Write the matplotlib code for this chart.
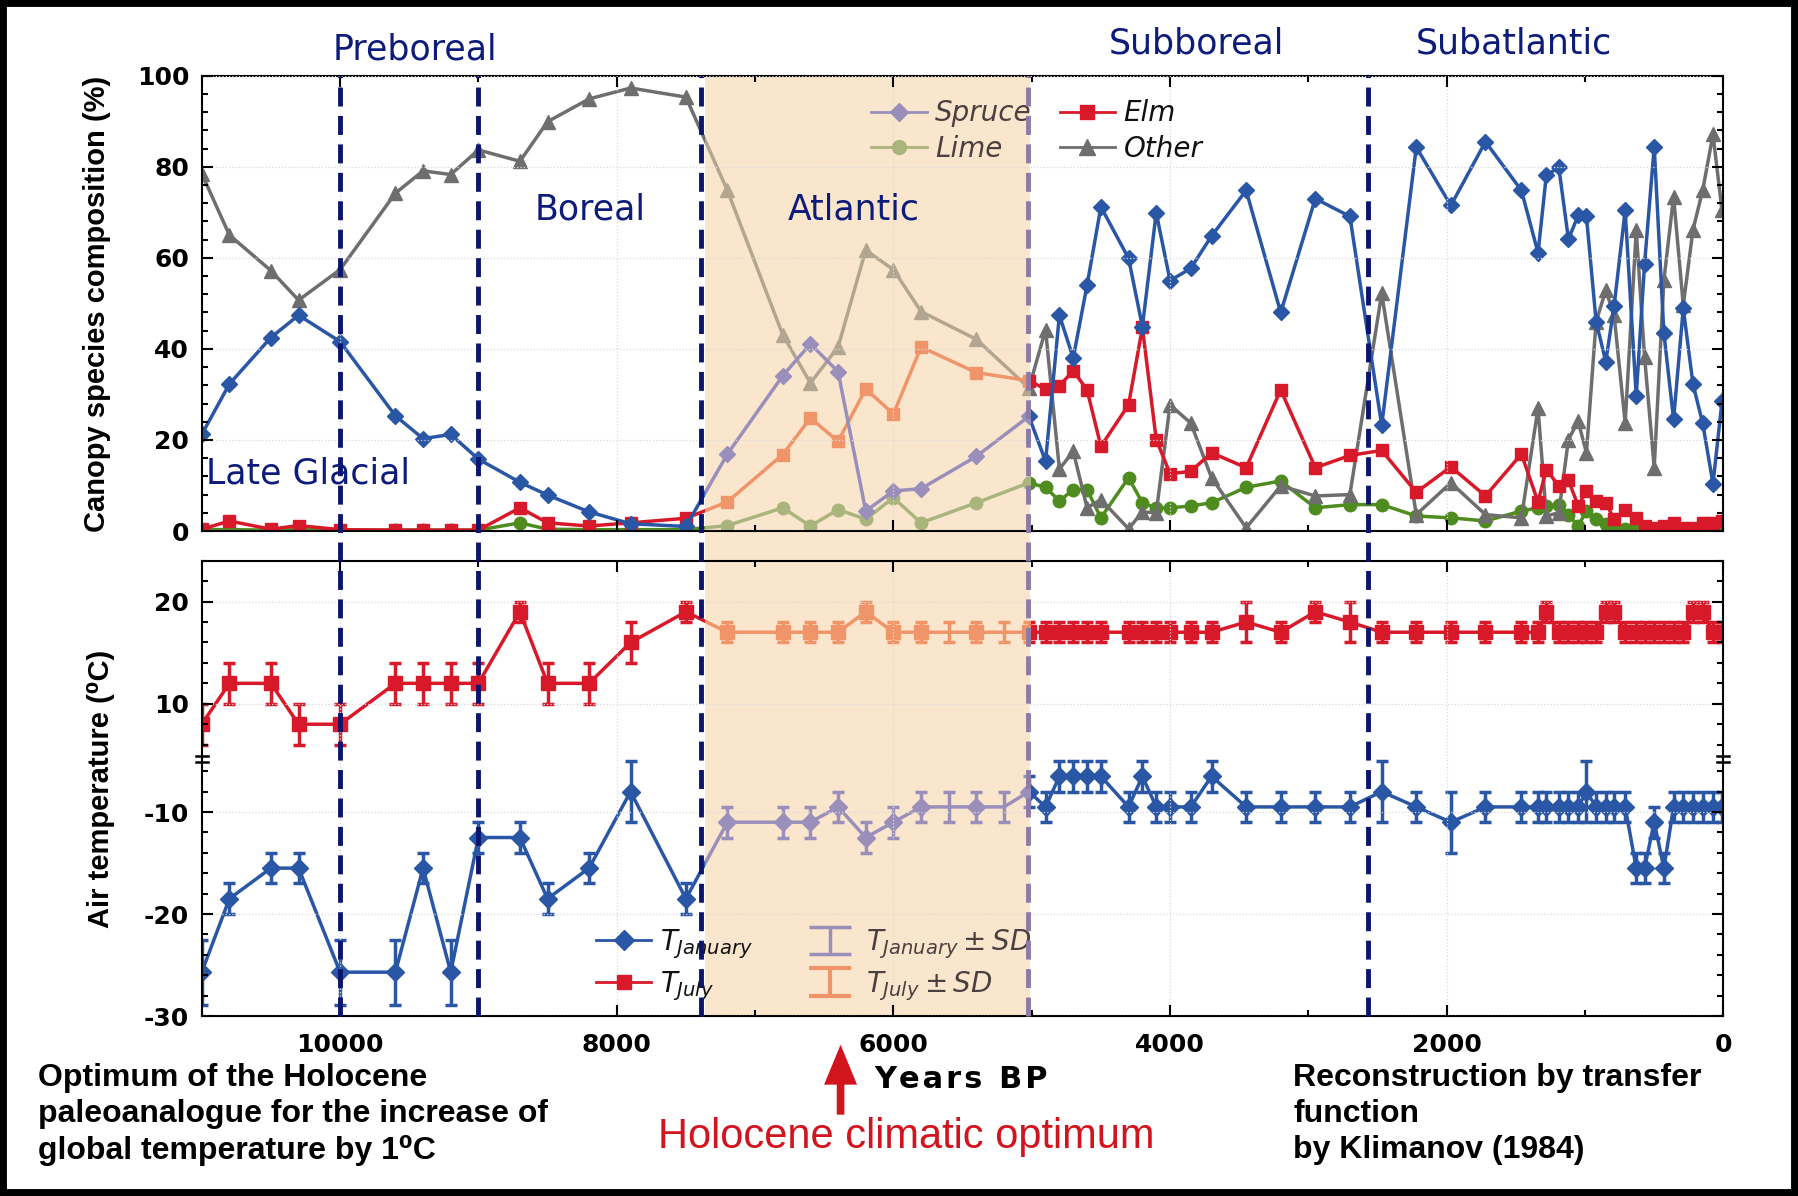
import numpy as np
import matplotlib
matplotlib.use('Agg')
import matplotlib.pyplot as plt
import matplotlib.transforms as mtransforms
from matplotlib.lines import Line2D
from matplotlib.patches import Rectangle, FancyArrowPatch

# ------------------------------- dados --------------------------------------

# idade das amostras (anos BP), mesma para as quatro especies
anos = [11000, 10800, 10500, 10300, 10000, 9600, 9400, 9200, 9000, 8700,
        8500, 8200, 7900, 7500, 7200, 6800, 6600, 6400, 6200, 6000,
        5800, 5400, 5020, 4900, 4800, 4700, 4600, 4500, 4300, 4200,
        4100, 4000, 3850, 3700, 3450, 3200, 2950, 2700, 2470, 2220,
        1970, 1720, 1460, 1340, 1280, 1190, 1120, 1050, 990, 920,
        850, 790, 710, 630, 570, 500, 430, 360, 290, 220,
        150, 75, 10]

spruce = [21.2, 32.3, 42.5, 47.4, 41.6, 25.3, 20.3, 21.2, 15.8, 10.7,
          7.9, 4.2, 1.6, 1.0, 16.9, 34.1, 41.1, 35.0, 4.4, 8.8,
          9.3, 16.4, 25.2, 15.3, 47.4, 38.0, 54.0, 71.2, 59.9, 44.9,
          69.9, 55.0, 57.7, 64.8, 74.8, 48.0, 73.0, 69.1, 23.2, 84.3,
          71.5, 85.5, 74.8, 61.1, 78.1, 79.9, 64.1, 69.3, 69.1, 46.0,
          37.2, 49.4, 70.4, 29.6, 58.6, 84.4, 43.4, 24.5, 48.9, 32.3,
          23.7, 10.4, 28.5]

other = [78.5, 65.0, 57.2, 50.7, 57.4, 74.2, 79.1, 78.3, 83.7, 81.2,
         89.9, 94.9, 97.3, 95.3, 74.8, 43.1, 32.5, 40.4, 61.7, 57.4,
         48.2, 42.1, 31.4, 44.2, 13.6, 17.5, 5.1, 6.9, 0.5, 4.2,
         4.0, 27.7, 23.7, 11.7, 0.7, 9.9, 7.7, 8.0, 52.2, 3.6,
         10.6, 3.6, 2.9, 27.0, 3.3, 4.0, 20.1, 24.1, 17.2, 46.0,
         52.9, 47.4, 23.7, 66.1, 38.3, 13.9, 55.1, 73.4, 49.6, 66.1,
         74.8, 87.1, 70.4]

elm = [0.4, 2.2, 0.4, 1.2, 0.3, 0.2, 0.2, 0.2, 0.2, 5.1,
       1.8, 1.1, 1.8, 2.8, 6.4, 16.8, 24.8, 19.7, 31.2, 25.7,
       40.4, 34.8, 33.0, 31.2, 31.9, 35.2, 31.0, 18.6, 27.7, 44.7,
       20.1, 12.6, 13.1, 17.2, 13.9, 31.0, 13.9, 16.6, 17.7, 8.5,
       14.1, 7.7, 16.9, 6.4, 13.5, 9.9, 11.1, 5.6, 8.8, 6.6,
       6.2, 2.6, 4.7, 2.9, 1.1, 0.7, 1.0, 1.8, 0.7, 0.7,
       1.8, 1.8, 2.2]

lime = [0.3, 0.3, 0.2, 0.3, 0.2, 0.2, 0.2, 0.2, 0.2, 1.8,
        0.4, 0.3, 0.3, 0.3, 1.2, 5.1, 1.1, 4.7, 2.6, 7.3,
        1.8, 6.2, 10.6, 9.6, 6.6, 9.1, 9.1, 2.9, 11.7, 6.2,
        5.1, 5.1, 5.5, 6.2, 9.6, 11.0, 5.1, 5.8, 5.8, 3.3,
        2.9, 2.2, 4.4, 5.1, 5.5, 5.8, 3.6, 1.1, 4.4, 2.6,
        1.5, 0.7, 0.5, 0.5, 0.6, 0.4, 0.4, 0.4, 0.4, 0.4,
        0.4, 0.4, 0.4]

# temperaturas (tem duas amostras a mais: 5600 e 5200)
anos_t = [11000, 10800, 10500, 10300, 10000, 9600, 9400, 9200, 9000, 8700,
          8500, 8200, 7900, 7500, 7200, 6800, 6600, 6400, 6200, 6000,
          5800, 5600, 5400, 5200, 5020, 4900, 4800, 4700, 4600, 4500,
          4300, 4200, 4100, 4000, 3850, 3700, 3450, 3200, 2950, 2700,
          2470, 2220, 1970, 1720, 1460, 1340, 1280, 1190, 1120, 1050,
          990, 920, 850, 790, 710, 630, 570, 500, 430, 360,
          290, 220, 150, 75, 10]
sem_marcador = [5600, 5200]

t_jul = [8, 12, 12, 8, 8, 12, 12, 12, 12, 19,
         12, 12, 16, 19, 17, 17, 17, 17, 19, 17,
         17, 17, 17, 17, 17, 17, 17, 17, 17, 17,
         17, 17, 17, 17, 17, 17, 18, 17, 19, 18,
         17, 17, 17, 17, 17, 17, 19, 17, 17, 17,
         17, 17, 19, 19, 17, 17, 17, 17, 17, 17,
         17, 19, 19, 17, 17]
jul_sd = [2, 2, 2, 2, 2, 2, 2, 2, 2, 1,
          2, 2, 2, 1, 1, 1, 1, 1, 1, 1,
          1, 1, 1, 1, 1, 1, 1, 1, 1, 1,
          1, 1, 1, 1, 1, 1, 2, 1, 1, 2,
          1, 1, 1, 1, 1, 1, 1, 1, 1, 1,
          1, 1, 1, 1, 1, 1, 1, 1, 1, 1,
          1, 1, 1, 1, 1]

t_jan = [-25.7, -18.5, -15.5, -15.5, -25.7, -25.7, -15.5, -25.7, -12.5, -12.5,
         -18.5, -15.5, -8.0, -18.5, -11.0, -11.0, -11.0, -9.5, -12.5, -11.0,
         -9.5, -9.5, -9.5, -9.5, -8.0, -9.5, -6.5, -6.5, -6.5, -6.5,
         -9.5, -6.5, -9.5, -9.5, -9.5, -6.5, -9.5, -9.5, -9.5, -9.5,
         -8.0, -9.5, -11.0, -9.5, -9.5, -9.5, -9.5, -9.5, -9.5, -9.5,
         -8.0, -9.5, -9.5, -9.5, -9.5, -15.5, -15.5, -11.0, -15.5, -9.5,
         -9.5, -9.5, -9.5, -9.5, -9.5]
jan_sd = [3.2, 1.5, 1.5, 1.5, 3.2, 3.2, 1.5, 3.2, 1.5, 1.5,
          1.5, 1.5, 3.0, 1.5, 1.5, 1.5, 1.5, 1.5, 1.5, 1.5,
          1.5, 1.5, 1.5, 1.5, 1.5, 1.5, 1.5, 1.5, 1.5, 1.5,
          1.5, 1.5, 1.5, 1.5, 1.5, 1.5, 1.5, 1.5, 1.5, 1.5,
          3.0, 1.5, 3.0, 1.5, 1.5, 1.5, 1.5, 1.5, 1.5, 1.5,
          3.0, 1.5, 1.5, 1.5, 1.5, 1.5, 1.5, 1.5, 1.5, 1.5,
          1.5, 1.5, 1.5, 1.5, 1.5]

# limites dos periodos e faixa do otimo climatico
limites = [10000, 9000, 7390, 2570]
limite_atl = 5030
otimo = (7365, 5010)

# ------------------------------- cores --------------------------------------

azul, vermelho, verde, cinza = '#2a56a6', '#d7192a', '#4f8c1f', '#6e6e6e'
# as mesmas cores vistas por baixo da faixa bege
azul_t, vermelho_t, verde_t, cinza_t = '#9a8fbb', '#f0956a', '#a9b57c', '#b3a691'
bege = '#fae6cd'
marinho = '#0b1470'
roxo = '#8c7aa8'
texto_azul = '#0d1b7a'

plt.rcParams['font.family'] = 'DejaVu Sans'
plt.rcParams['mathtext.fontset'] = 'dejavusans'
plt.rcParams['axes.unicode_minus'] = False

fig = plt.figure(figsize=(17.98, 11.96), dpi=100)

ax_top = fig.add_axes([0.1122, 0.556, 0.8463, 0.3807])
ax_jul = fig.add_axes([0.1122, 0.3654, 0.8463, 0.1658], sharex=ax_top)
ax_jan = fig.add_axes([0.1122, 0.1505, 0.8463, 0.2149], sharex=ax_top)


def faixa(ax):
    return ax.axvspan(otimo[0], otimo[1], color=bege, lw=0, zorder=2.2)


def serie(ax, x, y, cor, cor_t, fx, **kw):
    ax.plot(x, y, color=cor, zorder=2, **kw)
    l, = ax.plot(x, y, color=cor_t, zorder=2.3, **kw)
    l.set_clip_path(fx)


def serie_erro(ax, x, y, sd, cor, cor_t, fx, **kw):
    ax.errorbar(x, y, yerr=sd, color=cor, ecolor=cor, zorder=2, **kw)
    c = ax.errorbar(x, y, yerr=sd, color=cor_t, ecolor=cor_t, zorder=2.3, **kw)
    for a in c.get_children():
        a.set_clip_path(fx)


# ------------------------------- especies -----------------------------------

fx = faixa(ax_top)
serie(ax_top, anos, lime, verde, verde_t, fx, marker='o', ms=9, lw=2.5)
serie(ax_top, anos, other, cinza, cinza_t, fx, marker='^', ms=10, lw=2.5)
serie(ax_top, anos, elm, vermelho, vermelho_t, fx, marker='s', ms=8.5, lw=2.5)
serie(ax_top, anos, spruce, azul, azul_t, fx, marker='D', ms=8, lw=2.5)

ax_top.set_xlim(11000, 0)
ax_top.set_ylim(0, 100)
ax_top.set_yticks(np.arange(0, 101, 20))
ax_top.set_yticks(np.arange(0, 101, 4), minor=True)

# legenda preenche por coluna: Spruce/Lime, Elm/Other
h_esp = [Line2D([], [], color=azul_t, marker='D', ms=9, lw=2),
         Line2D([], [], color=verde_t, marker='o', ms=10, lw=2),
         Line2D([], [], color=vermelho, marker='s', ms=10, lw=2),
         Line2D([], [], color=cinza, marker='^', ms=11, lw=2)]
leg = ax_top.legend(h_esp, ['Spruce', 'Lime', 'Elm', 'Other'], ncol=2,
                    loc='upper left', bbox_to_anchor=(0.44, 0.948),
                    frameon=False, borderpad=0, borderaxespad=0,
                    handlelength=2.0, handletextpad=0.3, columnspacing=1.0,
                    labelspacing=0.28, prop={'size': 20, 'style': 'italic'})
for t, c in zip(leg.get_texts(), ['#4a4040', '#4a4040', '#111111', '#111111']):
    t.set_color(c)

# ------------------------------- temperaturas -------------------------------

idx = [i for i, a in enumerate(anos_t) if a not in sem_marcador]
kw = dict(lw=2.5, elinewidth=2.5, capsize=4, capthick=2.5, markevery=idx)

fx = faixa(ax_jul)
serie_erro(ax_jul, anos_t, t_jul, jul_sd, vermelho, vermelho_t, fx,
           marker='s', ms=10, **kw)
fx = faixa(ax_jan)
serie_erro(ax_jan, anos_t, t_jan, jan_sd, azul, azul_t, fx,
           marker='D', ms=9, **kw)

ax_jul.set_ylim(4.6, 24)
ax_jul.set_yticks([10, 20])
ax_jul.set_yticks(np.arange(6, 25, 2), minor=True)
ax_jan.set_ylim(-30, -4.8)
ax_jan.set_yticks([-30, -20, -10])
ax_jan.set_yticks(np.arange(-30, -5, 2), minor=True)

ax_jan.set_xticks(np.arange(0, 10001, 2000))
ax_jan.set_xticks(np.arange(0, 11001, 1000), minor=True)
ax_jan.xaxis.set_major_formatter(matplotlib.ticker.FormatStrFormatter('%d'))

ax_jul.spines['bottom'].set_visible(False)
ax_jan.spines['top'].set_visible(False)

h_temp = [Line2D([], [], color=azul, marker='D', ms=10, lw=2),
          Line2D([], [], color=vermelho, marker='s', ms=10, lw=2)]
e1 = ax_jan.errorbar([np.nan], [np.nan], yerr=[1], fmt='none', ecolor=azul_t,
                     elinewidth=2.5, capsize=15, capthick=2.5)
e2 = ax_jan.errorbar([np.nan], [np.nan], yerr=[1], fmt='none', ecolor=vermelho_t,
                     elinewidth=3, capsize=15, capthick=3)
leg2 = ax_jan.legend([h_temp[0], h_temp[1], e1, e2],
                     [r'$T_{January}$', r'$T_{July}$',
                      r'$T_{January} \pm SD$', r'$T_{July} \pm SD$'],
                     ncol=2, loc='upper left', bbox_to_anchor=(0.259, 0.345),
                     frameon=False, borderpad=0, borderaxespad=0,
                     handlelength=2.0, handletextpad=0.3, columnspacing=1.8,
                     labelspacing=0.3, prop={'size': 20})
for t, c in zip(leg2.get_texts(), ['#111111', '#111111', '#4a4040', '#4a4040']):
    t.set_color(c)

# ------------------------------- eixos --------------------------------------

for ax in (ax_top, ax_jul, ax_jan):
    ax.set_axisbelow(False)
    ax.grid(True, which='major', color='#dadada', ls=':', lw=0.9)
    ax.tick_params(which='both', direction='in', left=True, right=True,
                   top=True, bottom=True, width=1.5, labelsize=18)
    ax.tick_params(which='major', length=8)
    ax.tick_params(which='minor', length=4.5)
    ax.tick_params(axis='y', pad=9)
    for s in ax.spines.values():
        s.set_linewidth(1.5)
    for lb in ax.get_yticklabels() + ax.get_xticklabels():
        lb.set_fontweight('bold')
ax_top.tick_params(which='both', labelbottom=False)
ax_jul.tick_params(which='both', labelbottom=False, bottom=False)
ax_jan.tick_params(which='both', top=False)
ax_jan.tick_params(axis='x', pad=12)

# marcas de quebra do eixo
for xb in (0.0, 1.0):
    for yb in (1.012, 0.988):
        ax_jan.plot([xb - 0.004, xb + 0.004], [yb, yb], color='black', lw=1.8,
                    transform=ax_jan.transAxes, clip_on=False, zorder=6)

# ------------------------------- linhas e faixa na figura ------------------

trans = mtransforms.blended_transform_factory(ax_top.transData, fig.transFigure)
y_bot, y_top = 0.1505, 0.556 + 0.3807
fig.add_artist(Rectangle((otimo[0], 0.5312), otimo[1] - otimo[0], 0.556 - 0.5312,
                         transform=trans, color=bege, lw=0, zorder=-1))
for xl in limites:
    fig.add_artist(Line2D([xl, xl], [y_bot, y_top], transform=trans,
                          color=marinho, lw=3.5, ls=(0, (3.9, 1.95)), zorder=5))
fig.add_artist(Line2D([limite_atl, limite_atl], [y_bot, y_top], transform=trans,
                      color=roxo, lw=3.5, ls=(0, (3.9, 1.95)), zorder=5))

# ------------------------------- textos -------------------------------------

fig.text(0.2308, 0.9585, 'Preboreal', color=texto_azul, fontsize=25,
         ha='center', va='center')
fig.text(0.6657, 0.9635, 'Subboreal', color=texto_azul, fontsize=25,
         ha='center', va='center')
fig.text(0.8418, 0.9635, 'Subatlantic', color=texto_azul, fontsize=25,
         ha='center', va='center')
fig.text(0.3284, 0.8246, 'Boreal', color=texto_azul, fontsize=25,
         ha='center', va='center', zorder=6)
fig.text(0.4751, 0.8246, 'Atlantic', color=texto_azul, fontsize=25,
         ha='center', va='center', zorder=6)
fig.text(0.1148, 0.604, 'Late Glacial', color=texto_azul, fontsize=25,
         ha='left', va='center', zorder=6)

lib = ['Liberation Sans', 'DejaVu Sans']
fig.text(0.0542, 0.7458, 'Canopy species composition (%)', rotation=90,
         fontsize=21, fontweight='bold', family=lib, ha='center', va='center')
fig.text(0.0561, 0.3403, 'Air temperature (\u2070C)', rotation=90,
         fontsize=21, fontweight='bold', family=lib, ha='center', va='center')

fig.text(0.021, 0.111,
         'Optimum of the Holocene\npaleoanalogue for the increase of\n'
         'global temperature by 1\u2070C',
         fontsize=23, fontweight='bold', family=lib, ha='left', va='top',
         linespacing=1.25)
fig.text(0.7194, 0.111,
         'Reconstruction by transfer\nfunction\nby Klimanov (1984)',
         fontsize=23, fontweight='bold', family=lib, ha='left', va='top',
         linespacing=1.25)
fig.text(0.5345, 0.0975, 'Y\u200ae\u200aa\u200ar\u200as\u2009 B\u200aP',
         fontsize=22, fontweight='bold', ha='center', va='center')
fig.text(0.5039, 0.049, 'Holocene climatic optimum', color='#d2141e',
         fontsize=30, family=lib, ha='center', va='center')

fig.add_artist(FancyArrowPatch((0.4675, 0.068), (0.4675, 0.1265),
                               transform=fig.transFigure, color='#d2141e',
                               arrowstyle='simple,head_length=1.15,head_width=0.95,'
                                          'tail_width=0.22',
                               mutation_scale=25, lw=0, shrinkA=0, shrinkB=0))

# moldura preta
fig.add_artist(Rectangle((0, 0), 1, 1, transform=fig.transFigure, fill=False,
                         ec='black', lw=10, zorder=10))

fig.savefig('out.png', dpi=100)
